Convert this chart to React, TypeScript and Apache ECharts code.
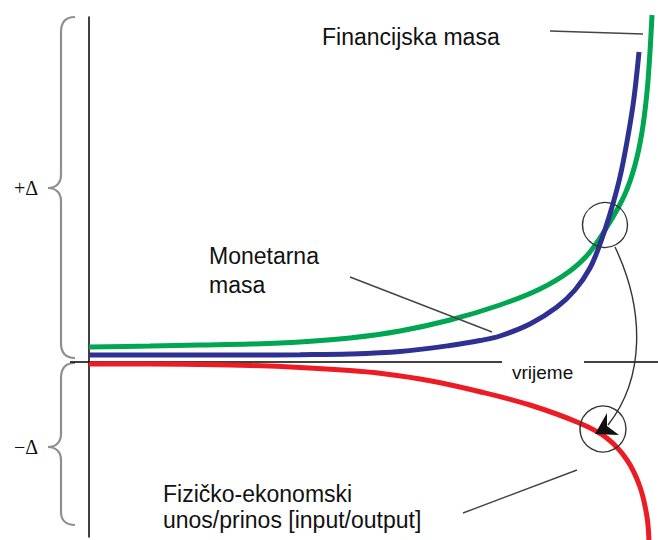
import React, { useEffect, useRef } from "react";
import * as echarts from "echarts";

// Axis ranges (abstract units: time on x, change Δ on y)
const TIME_RANGE: [number, number] = [0, 100];
const DELTA_RANGE: [number, number] = [-35, 69];

// Series values: [vrijeme, Δ]
const financijskaMasa: [number, number][] = [
  [0, 3.0], [10.72, 3.2], [19.51, 3.4], [28.3, 3.6], [37.08, 4.0], [45.87, 4.8],
  [54.66, 6.2], [63.44, 8.4], [72.23, 11.4], [79.26, 14.6], [84.53, 18.2],
  [88.05, 22.0], [91.56, 28.0], [94.2, 33.6], [95.96, 39.4], [97.19, 46.0],
  [98.07, 54.0], [98.59, 62.0], [98.95, 69.4],
];
const monetarnaMasa: [number, number][] = [
  [0, 1.4], [10.72, 1.4], [19.51, 1.4], [28.3, 1.4], [37.08, 1.46], [45.87, 1.6],
  [54.66, 2.1], [63.44, 3.3], [68.72, 4.3], [72.23, 5.2], [77.5, 7.6], [82.25, 11.0],
  [85.41, 14.4], [88.05, 18.8], [89.81, 23.6], [91.56, 29.6], [93.32, 37.0],
  [94.73, 45.2], [95.78, 52.8], [96.66, 62.0],
];
const fizickoEkonomski: [number, number][] = [
  [0, -0.4], [10.72, -0.4], [19.51, -0.5], [28.3, -0.7], [37.08, -1.1],
  [45.87, -1.7], [51.14, -2.26], [59.93, -3.74], [68.72, -5.94], [77.5, -8.6],
  [86.29, -12.26], [91.04, -15.26], [94.55, -19.6], [96.84, -25.0],
  [98.07, -31.0], [98.42, -36.0],
];

const seriesNames = ["Financijska masa", "Monetarna masa", "Fizičko-ekonomski unos/prinos [input/output]"];
const labelFinancijska = ["Financijska masa"];
const labelMonetarna = ["Monetarna", "masa"];
const labelFizicko = ["Fizičko-ekonomski", "unos/prinos [input/output]"];
const axisLabelTime = "vrijeme";
const deltaLabels = ["+Δ", "−Δ"];

const SANS = '"Liberation Sans", Arial, Helvetica, sans-serif';
const SERIF = '"Liberation Serif", "Times New Roman", serif';

echarts.graphic.registerShape(
  "braceUp",
  echarts.graphic.extendPath(
    "M75,17 C66,17 61,22 61,32 L61,175 C61,183 56,188 48,188 C56,188 61,193 61,201 L61,343 C61,353 66,358 75,358",
    {}
  )
);
echarts.graphic.registerShape(
  "braceDown",
  echarts.graphic.extendPath(
    "M75,363 C66,363 61,368 61,378 L61,434 C61,442 56,447 48,447 C56,447 61,452 61,460 L61,512 C61,520 66,525 75,525",
    {}
  )
);

export default function App() {
  const ref = useRef<HTMLDivElement>(null);

  useEffect(() => {
    if (!ref.current) return;
    const chart = echarts.init(ref.current, null, { renderer: "svg" });

    const textEl = (text: string, x: number, y: number, size = 23, family = SANS) => ({
      type: "text",
      x,
      y,
      z: 20,
      style: {
        text,
        fontSize: size,
        fontFamily: family,
        fill: "#111",
        align: "left",
        verticalAlign: "middle",
      },
    });

    const annLine = { stroke: "#444", lineWidth: 1.4 };
    const lineSeries = (name: string, data: [number, number][], color: string, z: number) => ({
      name,
      type: "line",
      data,
      smooth: 0.35,
      showSymbol: false,
      clip: false,
      lineStyle: { color, width: 5 },
      z,
    });

    chart.setOption({
      animation: false,
      backgroundColor: "#fff",
      grid: { left: 89, right: 0, top: 17, bottom: 3 },
      xAxis: {
        type: "value",
        min: TIME_RANGE[0],
        max: TIME_RANGE[1],
        axisLine: { show: true, onZero: true, lineStyle: { color: "#000", width: 1.5 } },
        axisTick: { show: false },
        axisLabel: { show: false },
        splitLine: { show: false },
      },
      yAxis: {
        type: "value",
        min: DELTA_RANGE[0],
        max: DELTA_RANGE[1],
        axisLine: { show: true, onZero: true, lineStyle: { color: "#000", width: 1.5 } },
        axisTick: { show: false },
        axisLabel: { show: false },
        splitLine: { show: false },
      },
      series: [
        lineSeries(seriesNames[0], financijskaMasa, "#00A651", 3),
        lineSeries(seriesNames[1], monetarnaMasa, "#2E3192", 4),
        lineSeries(seriesNames[2], fizickoEkonomski, "#ED1C24", 5),
      ],
      graphic: [
        // braces
        { type: "braceUp", x: 0, y: 0, style: { stroke: "#8f8f8f", lineWidth: 2.2, fill: "none" } },
        { type: "braceDown", x: 0, y: 0, style: { stroke: "#8f8f8f", lineWidth: 2.2, fill: "none" } },
        textEl(deltaLabels[0], 14, 188, 20, SERIF),
        textEl(deltaLabels[1], 14, 447, 20, SERIF),
        // axis stub left of vertical axis
        { type: "line", shape: { x1: 70, y1: 362, x2: 89, y2: 362 }, style: { stroke: "#000", lineWidth: 1.5 } },
        // gap in time axis for label
        { type: "rect", z: 10, shape: { x: 502, y: 357, width: 82, height: 10 }, style: { fill: "#fff" } },
        textEl(axisLabelTime, 512, 372, 19),
        // labels
        textEl(labelFinancijska[0], 322, 37),
        textEl(labelMonetarna[0], 209, 256),
        textEl(labelMonetarna[1], 209, 285),
        textEl(labelFizicko[0], 163, 494),
        textEl(labelFizicko[1], 163, 520),
        // leader lines
        { type: "line", z: 20, shape: { x1: 550, y1: 31, x2: 643, y2: 34 }, style: annLine },
        { type: "line", z: 20, shape: { x1: 350, y1: 277, x2: 492, y2: 332 }, style: annLine },
        { type: "line", z: 20, shape: { x1: 463, y1: 513, x2: 577, y2: 470 }, style: annLine },
        // circles
        { type: "circle", z: 20, shape: { cx: 605, cy: 225, r: 22.5 }, style: { stroke: "#333", lineWidth: 1.4, fill: "none" } },
        { type: "circle", z: 20, shape: { cx: 603, cy: 429, r: 23 }, style: { stroke: "#333", lineWidth: 1.4, fill: "none" } },
        // curved arrow
        {
          type: "bezierCurve",
          z: 20,
          shape: { x1: 615, y1: 247, cpx1: 645, cpy1: 310, cpx2: 645, cpy2: 378, x2: 608, y2: 425 },
          style: { stroke: "#333", lineWidth: 1.4, fill: "none" },
        },
        {
          type: "polygon",
          z: 21,
          shape: { points: [[595, 434], [607, 413], [607, 426], [619, 435]] },
          style: { fill: "#111", stroke: "none" },
        },
      ],
    });

    return () => chart.dispose();
  }, []);

  return (
    <div
      ref={ref}
      style={{ position: "absolute", left: 0, top: 0, width: 658, height: 540, background: "#fff" }}
    />
  );
}
